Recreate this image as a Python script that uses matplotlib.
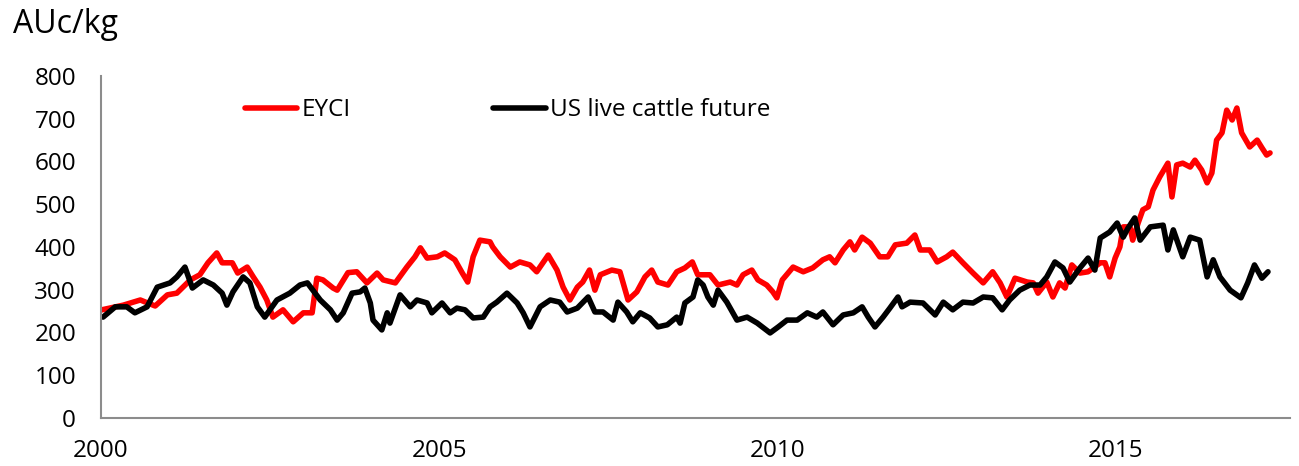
import matplotlib
matplotlib.use('Agg')
import matplotlib.pyplot as plt

# EYCI (AUc/kg), decimal years
eyci_year = [2000.01, 2000.33, 2000.58, 2000.80, 2000.98, 2001.12, 2001.32, 2001.46, 2001.58, 2001.71,
             2001.79, 2001.94, 2002.02, 2002.16, 2002.25, 2002.35, 2002.45, 2002.54, 2002.69, 2002.84,
             2002.99, 2003.12, 2003.19, 2003.28, 2003.43, 2003.49, 2003.65, 2003.78, 2003.93, 2004.08,
             2004.17, 2004.35, 2004.52, 2004.64, 2004.72, 2004.82, 2004.97, 2005.08, 2005.23, 2005.34,
             2005.42, 2005.50, 2005.60, 2005.75, 2005.79, 2005.90, 2006.05, 2006.19, 2006.34, 2006.44,
             2006.61, 2006.74, 2006.83, 2006.93, 2007.04, 2007.12, 2007.22, 2007.30, 2007.38, 2007.55,
             2007.67, 2007.79, 2007.92, 2008.04, 2008.14, 2008.23, 2008.38, 2008.51, 2008.63, 2008.74,
             2008.82, 2009.00, 2009.12, 2009.30, 2009.40, 2009.49, 2009.62, 2009.71, 2009.84, 2009.93,
             2009.99, 2010.07, 2010.23, 2010.38, 2010.52, 2010.67, 2010.77, 2010.85, 2010.97, 2011.07,
             2011.14, 2011.25, 2011.37, 2011.51, 2011.63, 2011.74, 2011.91, 2012.03, 2012.11, 2012.25,
             2012.36, 2012.50, 2012.59, 2012.74, 2012.89, 2013.04, 2013.18, 2013.29, 2013.39, 2013.51,
             2013.69, 2013.78, 2013.85, 2013.98, 2014.07, 2014.17, 2014.25, 2014.35, 2014.47, 2014.59,
             2014.77, 2014.84, 2014.91, 2014.99, 2015.06, 2015.11, 2015.21, 2015.25, 2015.33, 2015.40,
             2015.48, 2015.55, 2015.65, 2015.77, 2015.83, 2015.90, 2015.99, 2016.10, 2016.17, 2016.27,
             2016.35, 2016.42, 2016.49, 2016.57, 2016.64, 2016.72, 2016.79, 2016.86, 2016.98, 2017.09,
             2017.16, 2017.23, 2017.28]
eyci = [253, 264, 276, 262, 288, 292, 323, 335, 363, 386,
        363, 363, 339, 353, 330, 306, 276, 236, 253, 225,
        246, 246, 327, 323, 304, 299, 340, 342, 316, 339,
        323, 316, 353, 377, 398, 374, 377, 386, 370, 339,
        318, 377, 416, 412, 400, 377, 353, 365, 358, 342,
        381, 346, 306, 276, 306, 318, 346, 299, 335, 346,
        342, 276, 295, 330, 346, 318, 311, 342, 351, 365,
        335, 335, 311, 318, 311, 335, 346, 323, 311, 295,
        281, 323, 353, 342, 351, 370, 377, 363, 393, 412,
        393, 423, 409, 377, 377, 405, 409, 428, 393, 393,
        365, 377, 388, 363, 339, 316, 342, 316, 283, 327,
        318, 316, 292, 318, 283, 316, 304, 358, 339, 342,
        363, 363, 330, 374, 400, 447, 447, 416, 456, 487,
        494, 533, 564, 596, 517, 592, 596, 587, 603, 580,
        550, 573, 650, 667, 720, 697, 725, 667, 634, 650,
        632, 615, 620]

# US live cattle future (AUc/kg)
cattle_year = [2000.03, 2000.21, 2000.38, 2000.50, 2000.68, 2000.83, 2001.02, 2001.12, 2001.24, 2001.35,
               2001.51, 2001.66, 2001.79, 2001.86, 2001.95, 2002.10, 2002.20, 2002.31, 2002.42, 2002.60,
               2002.79, 2002.94, 2003.05, 2003.24, 2003.39, 2003.49, 2003.58, 2003.71, 2003.83, 2003.90,
               2003.98, 2004.02, 2004.15, 2004.23, 2004.27, 2004.42, 2004.57, 2004.67, 2004.82, 2004.89,
               2005.04, 2005.16, 2005.26, 2005.38, 2005.50, 2005.65, 2005.75, 2005.85, 2006.00, 2006.15,
               2006.24, 2006.34, 2006.49, 2006.64, 2006.78, 2006.89, 2007.04, 2007.20, 2007.30, 2007.42,
               2007.57, 2007.64, 2007.77, 2007.86, 2007.97, 2008.11, 2008.23, 2008.37, 2008.51, 2008.56,
               2008.63, 2008.75, 2008.82, 2008.90, 2008.97, 2009.05, 2009.12, 2009.25, 2009.40, 2009.55,
               2009.70, 2009.89, 2010.01, 2010.14, 2010.29, 2010.44, 2010.58, 2010.67, 2010.82, 2010.97,
               2011.12, 2011.25, 2011.34, 2011.44, 2011.56, 2011.66, 2011.78, 2011.84, 2011.96, 2012.15,
               2012.33, 2012.45, 2012.59, 2012.74, 2012.89, 2013.04, 2013.18, 2013.32, 2013.43, 2013.58,
               2013.73, 2013.88, 2013.98, 2014.10, 2014.22, 2014.32, 2014.47, 2014.59, 2014.69, 2014.77,
               2014.91, 2015.02, 2015.11, 2015.18, 2015.28, 2015.36, 2015.51, 2015.70, 2015.77, 2015.85,
               2015.99, 2016.10, 2016.24, 2016.35, 2016.44, 2016.54, 2016.69, 2016.85, 2016.95, 2017.05,
               2017.16, 2017.25]
cattle = [236, 260, 260, 246, 260, 306, 316, 330, 353, 304,
          323, 311, 292, 264, 295, 330, 316, 260, 236, 276,
          292, 311, 316, 276, 253, 229, 246, 292, 295, 304,
          269, 229, 206, 246, 222, 288, 260, 276, 269, 246,
          269, 246, 257, 253, 234, 236, 260, 271, 292, 269,
          246, 213, 260, 276, 271, 248, 257, 283, 248, 248,
          229, 271, 248, 225, 246, 234, 213, 218, 236, 222,
          269, 283, 323, 311, 283, 264, 299, 271, 229, 236,
          222, 199, 213, 229, 229, 246, 236, 248, 218, 241,
          246, 260, 236, 213, 236, 257, 283, 260, 271, 269,
          241, 271, 253, 271, 269, 283, 281, 253, 276, 299,
          311, 311, 330, 365, 351, 318, 351, 374, 346, 421,
          435, 456, 423, 444, 468, 416, 447, 451, 393, 440,
          377, 423, 416, 330, 370, 330, 299, 281, 316, 358,
          327, 342]

year_ticks = [2000, 2005, 2010, 2015]
value_ticks = [0, 100, 200, 300, 400, 500, 600, 700, 800]

plt.rcParams['font.family'] = ['Open Sans', 'DejaVu Sans']
fs = 17.5

fig = plt.figure(figsize=(12.99, 4.66), dpi=100)
ax = fig.add_axes([0.0778, 0.103, 0.915, 0.734])

ax.plot(eyci_year, eyci, color='#ff0000', lw=4, solid_joinstyle='round',
        solid_capstyle='round', label='EYCI')
ax.plot(cattle_year, cattle, color='#000000', lw=4, solid_joinstyle='round',
        solid_capstyle='round', label='US live cattle future')

ax.set_xlim(2000, 2017.57)
ax.set_ylim(0, 800)
ax.set_xticks(year_ticks)
ax.set_yticks(value_ticks)
ax.tick_params(length=0, labelsize=fs)
ax.tick_params(axis='y', pad=18)
ax.tick_params(axis='x', pad=15)

for side in ['top', 'right']:
    ax.spines[side].set_visible(False)
for side in ['left', 'bottom']:
    ax.spines[side].set_color('#8c8c8c')
    ax.spines[side].set_linewidth(1.5)

ax.legend(loc='center left', bbox_to_anchor=(0.121, 0.90), ncol=2, frameon=False,
          fontsize=fs, borderpad=0, borderaxespad=0, handlelength=2.15,
          handletextpad=0.2, columnspacing=5.85)

fig.text(13 / 1299, 1 - 33 / 466, 'AUc/kg', fontsize=23, va='baseline', ha='left')

fig.savefig('out.png', dpi=100)
